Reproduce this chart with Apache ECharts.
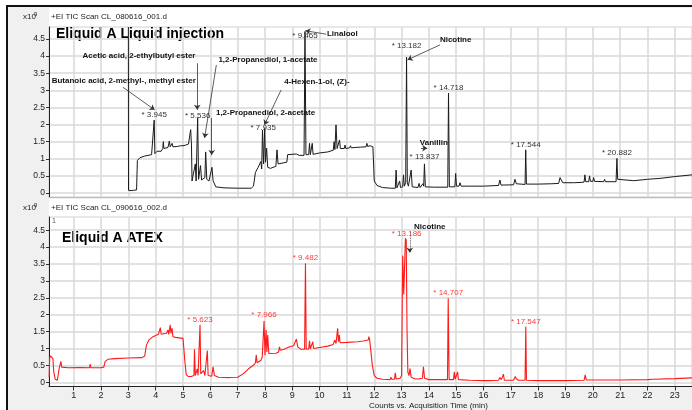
<!DOCTYPE html>
<html>
<head>
<meta charset="utf-8">
<script src="https://cdn.jsdelivr.net/npm/echarts@6/dist/echarts.min.js"></script>
<style>
  html, body { margin: 0; padding: 0; background: #fff; }
  #chart { width: 692px; height: 410px; }
</style>
</head>
<body>
<div id="chart"></div>
<script>
// x ticks (min) and y ticks (x10^9 counts)
var xTicks = [1, 2, 3, 4, 5, 6, 7, 8, 9, 10, 11, 12, 13, 14, 15, 16, 17, 18, 19, 20, 21, 22, 23];
var yTicks = [0, 0.5, 1, 1.5, 2, 2.5, 3, 3.5, 4, 4.5];

// TIC, liquid injection (CL_080616_001.d): [time, counts]
var liquidTrace = [
  [3.00, 4.85], [3.005, 0.08], [3.1, 0.07], [3.15, 0.12], [3.2, 0.08], [3.3, 0.09], [3.33, 0.95], [3.42, 1.03],
  [3.6, 1.08], [3.85, 1.12], [3.92, 1.15], [3.945, 2.13], [3.97, 1.15], [4.02, 1.1], [4.05, 1.22], [4.2, 1.22],
  [4.26, 1.3], [4.28, 1.5], [4.3, 1.3], [4.35, 1.3], [4.45, 1.33], [4.5, 1.52], [4.53, 1.35], [4.6, 1.45],
  [4.63, 1.35], [4.8, 1.36], [4.9, 1.38], [5.0, 1.38], [5.1, 1.4], [5.2, 1.43], [5.25, 1.45], [5.28, 1.85],
  [5.31, 1.4], [5.33, 0.35], [5.4, 0.32], [5.45, 0.85], [5.48, 0.35], [5.5, 0.4], [5.536, 2.2], [5.57, 0.4],
  [5.61, 0.42], [5.64, 0.8], [5.68, 0.38], [5.72, 0.4], [5.8, 0.45], [5.83, 1.2], [5.87, 0.4], [5.95, 0.35],
  [6.02, 0.38], [6.06, 0.75], [6.1, 0.36], [6.2, 0.18], [6.5, 0.15], [7.0, 0.14], [7.5, 0.14], [7.58, 0.2],
  [7.65, 0.6], [7.75, 0.75], [7.8, 0.7], [7.85, 0.92], [7.88, 0.7], [7.91, 1.84], [7.95, 0.85], [7.99, 1.89],
  [8.02, 0.9], [8.06, 1.31], [8.1, 0.75], [8.2, 0.72], [8.4, 0.78], [8.44, 1.26], [8.48, 0.85], [8.8, 0.9],
  [8.83, 1.12], [9.15, 1.14], [9.2, 1.18], [9.25, 1.1], [9.43, 1.1], [9.465, 4.72], [9.5, 1.12], [9.6, 1.12],
  [9.63, 1.45], [9.66, 1.12], [9.7, 1.12], [9.73, 1.45], [9.76, 1.13], [10.0, 1.17], [10.3, 1.2], [10.5, 1.25],
  [10.53, 1.5], [10.56, 1.27], [10.6, 1.99], [10.64, 1.3], [10.7, 1.3], [10.73, 1.55], [10.76, 1.3], [10.9, 1.3],
  [10.93, 1.4], [10.96, 1.3], [11.1, 1.32], [11.13, 1.38], [11.16, 1.32], [11.3, 1.33], [11.33, 1.38], [11.36, 1.33],
  [11.5, 1.34], [11.53, 1.38], [11.56, 1.34], [11.7, 1.35], [11.73, 1.45], [11.76, 1.36], [11.85, 1.38], [11.95, 1.35],
  [12.0, 0.35], [12.1, 0.22], [12.3, 0.16], [12.6, 0.14], [12.77, 0.14], [12.8, 0.67], [12.83, 0.15], [12.9, 0.16],
  [12.93, 0.35], [12.96, 0.16], [13.04, 0.18], [13.07, 0.53], [13.1, 0.2], [13.15, 0.3], [13.182, 3.97], [13.21, 0.3],
  [13.25, 0.2], [13.35, 0.67], [13.39, 0.18], [13.6, 0.16], [13.64, 0.28], [13.68, 0.16], [13.75, 0.17], [13.78, 0.27],
  [13.81, 0.2], [13.837, 0.85], [13.87, 0.18], [14.2, 0.17], [14.69, 0.17], [14.718, 2.92], [14.75, 0.18], [14.95, 0.18],
  [14.98, 0.57], [15.01, 0.2], [15.1, 0.2], [15.14, 0.3], [15.18, 0.2], [15.5, 0.2], [16.0, 0.2], [16.55, 0.22],
  [16.6, 0.38], [16.64, 0.23], [17.1, 0.24], [17.15, 0.4], [17.2, 0.27], [17.25, 0.25], [17.52, 0.25], [17.544, 1.26],
  [17.57, 0.26], [18.0, 0.26], [18.5, 0.27], [18.75, 0.28], [18.8, 0.45], [18.9, 0.3], [19.3, 0.3], [19.6, 0.31],
  [19.68, 0.32], [19.71, 0.53], [19.74, 0.33], [19.85, 0.33], [19.88, 0.5], [19.91, 0.34], [20.0, 0.34], [20.03, 0.45],
  [20.06, 0.34], [20.4, 0.33], [20.43, 0.4], [20.46, 0.33], [20.85, 0.33], [20.882, 1.01], [20.91, 0.4], [20.95, 0.35],
  [21.5, 0.36], [22.0, 0.4], [22.5, 0.43], [23.0, 0.48], [23.63, 0.53]
];

// TIC, ATEX (CL_090616_002.d): [time, counts]
var atexTrace = [
  [0.1, 0.15], [0.12, 0.72], [0.15, 0.78], [0.2, 0.77], [0.24, 0.7], [0.27, 0.3], [0.32, 0.1], [0.4, 0.06],
  [0.45, 0.08], [0.47, 0.42], [0.5, 0.45], [0.53, 0.62], [0.56, 0.45], [0.8, 0.43], [1.2, 0.44], [1.58, 0.43],
  [1.6, 0.54], [1.63, 0.43], [2.0, 0.43], [2.1, 0.45], [2.15, 0.62], [2.25, 0.68], [2.5, 0.7], [3.0, 0.72],
  [3.5, 0.73], [3.6, 0.78], [3.66, 1.1], [3.75, 1.25], [3.9, 1.35], [4.1, 1.42], [4.17, 1.62], [4.2, 1.42],
  [4.4, 1.45], [4.45, 1.55], [4.48, 1.42], [4.53, 1.7], [4.56, 1.45], [4.6, 1.6], [4.63, 1.35], [4.73, 1.33],
  [4.76, 1.38], [4.79, 1.3], [5.0, 1.3], [5.04, 1.32], [5.07, 0.6], [5.12, 0.22], [5.2, 0.17], [5.3, 0.17],
  [5.4, 0.2], [5.42, 0.98], [5.45, 0.2], [5.5, 0.22], [5.52, 0.4], [5.55, 0.2], [5.6, 0.22], [5.623, 1.7],
  [5.65, 0.25], [5.72, 0.22], [5.75, 0.35], [5.8, 0.2], [5.86, 0.22], [5.89, 0.94], [5.92, 0.2], [6.05, 0.18],
  [6.1, 0.46], [6.15, 0.2], [6.3, 0.15], [6.7, 0.14], [7.0, 0.15], [7.2, 0.25], [7.4, 0.4], [7.6, 0.52],
  [7.65, 0.58], [7.68, 0.81], [7.71, 0.58], [7.85, 0.65], [7.9, 0.75], [7.966, 1.81], [8.0, 0.8], [8.04, 1.55],
  [8.07, 0.9], [8.1, 1.4], [8.14, 0.85], [8.2, 0.82], [8.4, 0.86], [8.5, 0.9], [8.53, 1.05], [8.56, 0.95],
  [8.7, 0.98], [8.9, 1.05], [9.05, 1.08], [9.12, 1.1], [9.15, 1.28], [9.2, 1.05], [9.3, 0.98], [9.45, 0.98],
  [9.482, 3.52], [9.51, 0.98], [9.6, 0.99], [9.63, 1.23], [9.66, 0.99], [9.72, 0.99], [9.75, 1.2], [9.78, 1.0],
  [10.0, 1.03], [10.3, 1.07], [10.5, 1.12], [10.55, 1.25], [10.6, 1.15], [10.66, 1.6], [10.69, 1.2], [10.72, 1.4],
  [10.75, 1.17], [11.0, 1.18], [11.03, 1.22], [11.06, 1.18], [11.4, 1.2], [11.6, 1.22], [11.78, 1.25], [11.8, 1.35],
  [11.83, 1.27], [11.9, 1.28], [11.93, 0.5], [12.0, 0.2], [12.1, 0.12], [12.3, 0.09], [12.58, 0.08], [12.61, 0.15],
  [12.64, 0.09], [12.74, 0.09], [12.77, 0.28], [12.8, 0.1], [12.95, 0.12], [13.0, 0.2], [13.04, 3.74], [13.08, 2.6],
  [13.14, 4.26], [13.17, 4.2], [13.2, 1.5], [13.23, 0.3], [13.27, 0.2], [13.31, 0.41], [13.35, 0.15], [13.5, 0.1],
  [13.6, 0.1], [13.63, 0.14], [13.66, 0.1], [13.76, 0.12], [13.8, 0.46], [13.84, 0.12], [14.0, 0.08], [14.68, 0.08],
  [14.707, 2.49], [14.74, 0.08], [14.9, 0.08], [14.93, 0.31], [14.96, 0.09], [15.02, 0.09], [15.05, 0.31], [15.08, 0.08],
  [15.5, 0.06], [16.0, 0.05], [16.2, 0.05], [16.23, 0.08], [16.26, 0.05], [16.55, 0.06], [16.6, 0.14], [16.65, 0.08],
  [16.7, 0.1], [16.73, 0.24], [16.76, 0.06], [17.1, 0.06], [17.16, 0.17], [17.2, 0.1], [17.24, 0.12], [17.28, 0.06],
  [17.52, 0.06], [17.547, 1.65], [17.57, 0.06], [18.0, 0.05], [19.0, 0.05], [19.68, 0.06], [19.72, 0.22], [19.76, 0.07],
  [19.95, 0.07], [19.98, 0.1], [20.01, 0.07], [21.0, 0.07], [22.0, 0.08], [22.2, 0.09], [23.0, 0.11], [23.63, 0.13]
];

// retention time labels and the height their text sits at
var liquidRT = [3.945, 5.536, 7.935, 9.465, 13.182, 13.837, 14.718, 17.544, 20.882];
var liquidRTLabelY = [2.28, 2.25, 1.90, 4.59, 4.30, 1.05, 3.07, 1.40, 1.17];
var atexRT = [5.623, 7.966, 9.482, 13.186, 14.707, 17.547];
var atexRTLabelY = [1.84, 1.99, 3.67, 4.38, 2.66, 1.79];

// compound names in the liquid injection panel
var liquidNames = ['Butanoic acid, 2-methyl-, methyl ester', 'Acetic acid, 2-ethylbutyl ester',
  '1,2-Propanediol, 1-acetate', '1,2-Propanediol, 2-acetate', '4-Hexen-1-ol, (Z)-', 'Linalool', 'Nicotine', 'Vanillin'];
var liquidNamePos = [[2.83, 3.27], [3.39, 4.01], [8.11, 3.89], [8.02, 2.34], [9.90, 3.25], [10.83, 4.65], [14.98, 4.47], [14.18, 1.46]];
var liquidArrows = [
  [[2.80, 3.09], [3.96, 2.43]], [[5.52, 3.79], [5.52, 2.43]], [[6.22, 3.74], [5.79, 1.61]], [[6.05, 2.19], [6.05, 1.11]],
  [[8.59, 3.01], [7.98, 1.99]], [[10.24, 4.64], [9.48, 4.74]], [[14.41, 4.33], [13.22, 3.89]], [[13.71, 1.31], [13.94, 1.31]]
];
var atexNames = ['Nicotine'];
var atexNamePos = [[14.03, 4.6]];
var atexArrows = [[[13.30, 4.45], [13.30, 3.83]]];

var font = 'Liberation Sans, Arial, sans-serif';
var xMin = 0.095, xMax = 23.63;

function xAxisFor(idx, showLabels) {
  return {
    type: 'value', gridIndex: idx, min: xMin, max: xMax,
    axisLine: { show: true, onZero: false, lineStyle: { color: showLabels ? '#222' : '#bbb', width: 1 } },
    axisTick: { show: showLabels, customValues: xTicks, length: 4, lineStyle: { color: '#333' } },
    axisLabel: { show: showLabels, customValues: xTicks, color: '#222', fontSize: 9, margin: 5 },
    splitLine: { show: true, lineStyle: { color: '#d8d8d8', width: 1.5 } }
  };
}
function yAxisFor(idx, min, max) {
  return {
    type: 'value', gridIndex: idx, min: min, max: max,
    axisLine: { show: true, lineStyle: { color: '#222', width: 1 } },
    axisTick: { show: true, customValues: yTicks, length: 3, lineStyle: { color: '#333' } },
    axisLabel: { customValues: yTicks, color: '#222', fontSize: 8.5, margin: 4,
      formatter: function (v) { return String(v); } },
    splitLine: { show: true, lineStyle: { color: '#d8d8d8', width: 1.5 } }
  };
}
function rtLabels(rts, ys, color) {
  return rts.map(function (rt, i) {
    return { coord: [rt, ys[i]], value: '* ' + rt.toFixed(3), label: { color: color } };
  });
}
function nameLabels(names, pos) {
  return names.map(function (n, i) {
    return { coord: pos[i], value: n, label: { color: '#111', fontWeight: 'bold', fontSize: 8 } };
  });
}
function arrows(list) {
  return list.map(function (a) {
    return [{ coord: a[0] }, { coord: a[1] }];
  });
}

var myChart = echarts.init(document.getElementById('chart'));
var option = {
  animation: false,
  backgroundColor: '#fff',
  textStyle: { fontFamily: font },
  graphic: [
    { type: 'rect', z: -10, silent: true, shape: { x: 7, y: 6, width: 700, height: 420 },
      style: { fill: '#f0f0f0', stroke: '#111', lineWidth: 2 } },
    { type: 'rect', z: -9, silent: true, shape: { x: 49, y: 8, width: 643, height: 189 }, style: { fill: '#fff' } },
    { type: 'rect', z: -9, silent: true, shape: { x: 49, y: 199, width: 643, height: 188 }, style: { fill: '#fff' } },
    { type: 'text', x: 23, y: 17, style: { text: 'x10', fill: '#222', font: '8px ' + font, verticalAlign: 'middle' } },
    { type: 'text', x: 34, y: 14, style: { text: '9', fill: '#222', font: '6px ' + font, verticalAlign: 'middle' } },
    { type: 'text', x: 51, y: 17, style: { text: '+EI TIC Scan CL_080616_001.d', fill: '#222', font: '8px ' + font, verticalAlign: 'middle' } },
    { type: 'text', x: 23, y: 208, style: { text: 'x10', fill: '#222', font: '8px ' + font, verticalAlign: 'middle' } },
    { type: 'text', x: 34, y: 205, style: { text: '9', fill: '#222', font: '6px ' + font, verticalAlign: 'middle' } },
    { type: 'text', x: 51, y: 208, style: { text: '+EI TIC Scan CL_090616_002.d', fill: '#222', font: '8px ' + font, verticalAlign: 'middle' } },
    { type: 'text', x: 52, y: 221, style: { text: '1', fill: '#555', font: '7px ' + font, verticalAlign: 'middle' } },
    { type: 'text', x: 56, y: 34, style: { text: 'Eliquid A Liquid injection', fill: '#000', font: 'bold 14px ' + font, verticalAlign: 'middle' } },
    { type: 'text', x: 62, y: 238, style: { text: 'Eliquid A ATEX', fill: '#000', font: 'bold 14px ' + font, verticalAlign: 'middle' } },
    { type: 'text', x: 369, y: 406, style: { text: 'Counts vs. Acquisition Time (min)', fill: '#222', font: '8px ' + font, verticalAlign: 'middle' } }
  ],
  grid: [
    { left: 49, top: 27, width: 643, height: 170, show: true, backgroundColor: '#fff', borderColor: '#d0d0d0', borderWidth: 1, outerBoundsMode: 'none' },
    { left: 49, top: 217, width: 643, height: 169.5, show: true, backgroundColor: '#fff', borderColor: '#d0d0d0', borderWidth: 1, outerBoundsMode: 'none' }
  ],
  xAxis: [xAxisFor(0, false), xAxisFor(1, true)],
  yAxis: [yAxisFor(0, -0.117, 4.85), yAxisFor(1, -0.124, 4.89)],
  series: [
    {
      name: 'Liquid injection', type: 'line', xAxisIndex: 0, yAxisIndex: 0,
      data: liquidTrace, showSymbol: false, symbol: 'none',
      lineStyle: { color: '#1a1a1a', width: 1 },
      markPoint: {
        symbol: 'circle', symbolSize: 0, silent: true,
        label: { show: true, position: 'inside', fontSize: 8, formatter: '{c}' },
        data: rtLabels(liquidRT, liquidRTLabelY, '#333').concat(nameLabels(liquidNames, liquidNamePos))
      },
      markLine: {
        silent: true, symbol: ['none', 'arrow'], symbolSize: 5,
        lineStyle: { color: '#333', width: 0.8, type: 'solid' },
        label: { show: false },
        data: arrows(liquidArrows)
      }
    },
    {
      name: 'ATEX', type: 'line', xAxisIndex: 1, yAxisIndex: 1,
      data: atexTrace, showSymbol: false, symbol: 'none',
      lineStyle: { color: '#ff1a1a', width: 1.1 },
      markPoint: {
        symbol: 'circle', symbolSize: 0, silent: true,
        label: { show: true, position: 'inside', fontSize: 8, formatter: '{c}' },
        data: rtLabels(atexRT, atexRTLabelY, '#ff3b3b').concat(nameLabels(atexNames, atexNamePos))
      },
      markLine: {
        silent: true, symbol: ['none', 'arrow'], symbolSize: 5,
        lineStyle: { color: '#333', width: 0.8, type: 'dotted' },
        label: { show: false },
        data: arrows(atexArrows)
      }
    }
  ]
};
window.onresize = myChart.resize;
myChart.setOption(option);
</script>
</body>
</html>
